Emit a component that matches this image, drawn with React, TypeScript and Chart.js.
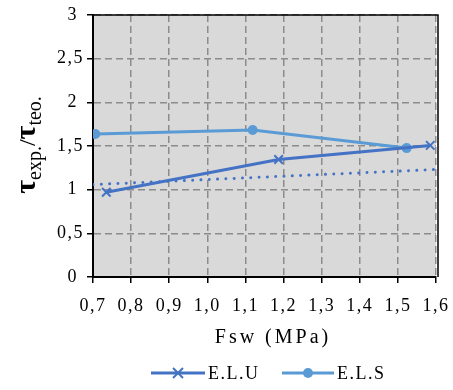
import React, { useEffect, useRef } from "react";
import { Chart, registerables } from "chart.js";

Chart.register(...registerables);

const FONT = '"Liberation Serif", "Times New Roman", serif';

const eluX = [0.735, 1.187, 1.585];
const eluY = [0.97, 1.346, 1.507];
const elsX = [0.706, 1.119, 1.523];
const elsY = [1.638, 1.684, 1.476];
const trendX = [0.7, 1.6];
const trendY = [1.058, 1.231];
const seriesNames = ["E.L.U", "E.L.S"];
const xTitle = "Fsw (MPa)";

const C_ELU = "#4472C4";
const C_ELS = "#5B9BD5";

const fmtX = (v: number) => v.toFixed(1).replace(".", ",");
const fmtY = (v: number) => {
  const r = Math.round(v * 10) / 10;
  return Number.isInteger(r) ? String(r) + " " : String(r).replace(".", ",");
};

const pts = (xs: number[], ys: number[]) => xs.map((x, i) => ({ x, y: ys[i] }));

const setSpacing = (chart: any) => {
  (chart.ctx as any).letterSpacing = "1.5px";
};

const decorPlugin = {
  id: "decor",
  beforeLayout(chart: any) {
    setSpacing(chart);
  },
  beforeDraw(chart: any) {
    setSpacing(chart);
    const { ctx, chartArea: a } = chart;
    ctx.save();
    ctx.fillStyle = "#D9D9D9";
    ctx.fillRect(a.left, a.top, a.right - a.left, a.bottom - a.top);
    ctx.restore();
  },
  afterDraw(chart: any) {
    const { ctx, chartArea: a } = chart;
    ctx.save();
    ctx.strokeStyle = "#000";
    ctx.lineWidth = 1.5;
    ctx.beginPath();
    ctx.moveTo(a.left, a.top);
    ctx.lineTo(a.right + 2, a.top);
    ctx.lineTo(a.right + 2, a.bottom);
    ctx.stroke();
    ctx.restore();

    // X title
    ctx.save();
    (ctx as any).letterSpacing = "3px";
    ctx.fillStyle = "#000";
    ctx.font = `20px ${FONT}`;
    ctx.textAlign = "center";
    ctx.textBaseline = "middle";
    ctx.fillText(xTitle, 273, 338);
    ctx.restore();

    // Y title with subscripts
    ctx.save();
    (ctx as any).letterSpacing = "0px";
    ctx.translate(35, 145);
    ctx.rotate(-Math.PI / 2);
    ctx.fillStyle = "#000";
    ctx.textBaseline = "alphabetic";
    ctx.textAlign = "left";
    const parts: [string, string, number][] = [
      ["τ", `bold 30px ${FONT}`, 0],
      ["exp.", `20px ${FONT}`, 6],
      ["/", `24px ${FONT}`, 0],
      ["τ", `bold 30px ${FONT}`, 0],
      ["teo.", `20px ${FONT}`, 6],
    ];
    let total = 0;
    const widths = parts.map(([t, f]) => {
      ctx.font = f;
      const w = ctx.measureText(t).width;
      total += w;
      return w;
    });
    let x = -total / 2;
    parts.forEach(([t, f, dy], i) => {
      ctx.font = f;
      ctx.fillText(t, x, dy);
      x += widths[i];
    });
    ctx.restore();

    // Legend
    ctx.save();
    (ctx as any).letterSpacing = "1.5px";
    const ly = 373;
    const drawItem = (x0: number, x1: number, color: string, marker: string, label: string) => {
      ctx.strokeStyle = color;
      ctx.lineWidth = 3;
      ctx.beginPath();
      ctx.moveTo(x0, ly);
      ctx.lineTo(x1, ly);
      ctx.stroke();
      const cx = (x0 + x1) / 2;
      if (marker === "x") {
        ctx.lineWidth = 2;
        ctx.beginPath();
        ctx.moveTo(cx - 5, ly - 5);
        ctx.lineTo(cx + 5, ly + 5);
        ctx.moveTo(cx - 5, ly + 5);
        ctx.lineTo(cx + 5, ly - 5);
        ctx.stroke();
      } else {
        ctx.fillStyle = color;
        ctx.beginPath();
        ctx.arc(cx, ly, 5, 0, Math.PI * 2);
        ctx.fill();
      }
      ctx.fillStyle = "#000";
      ctx.font = `18px ${FONT}`;
      ctx.textBaseline = "middle";
      ctx.textAlign = "left";
      ctx.fillText(label, x1 + 3, ly + 1);
    };
    drawItem(151, 205, C_ELU, "x", seriesNames[0]);
    drawItem(282, 334, C_ELS, "o", seriesNames[1]);
    ctx.restore();
  },
};

const gridOpts = {
  color: "#8C8C8C",
  lineWidth: 1.5,
  tickColor: "#000",
  tickLength: 6,
  tickWidth: 1.5,
  tickBorderDash: [],
};

export default function App() {
  const ref = useRef<HTMLCanvasElement>(null);
  useEffect(() => {
    document.body.style.margin = "0";
    const chart = new Chart(ref.current as HTMLCanvasElement, {
      type: "line",
      data: {
        datasets: [
          {
            label: "trend",
            data: pts(trendX, trendY),
            borderColor: C_ELU,
            borderWidth: 3,
            borderDash: [0.01, 8.3],
            borderCapStyle: "round",
            pointRadius: 0,
            fill: false,
          },
          {
            label: seriesNames[0],
            data: pts(eluX, eluY),
            borderColor: C_ELU,
            backgroundColor: C_ELU,
            borderWidth: 3,
            pointStyle: "crossRot",
            pointRadius: 6,
            pointBorderWidth: 2,
            fill: false,
          },
          {
            label: seriesNames[1],
            data: pts(elsX, elsY),
            borderColor: C_ELS,
            backgroundColor: C_ELS,
            borderWidth: 3,
            pointStyle: "circle",
            pointRadius: 5,
            pointBorderWidth: 0,
            fill: false,
          },
        ],
      },
      options: {
        animation: false,
        responsive: false,
        maintainAspectRatio: false,
        layout: { padding: { top: 15, right: 17, left: 0, bottom: 0 } },
        plugins: { legend: { display: false }, tooltip: { enabled: false } },
        scales: {
          x: {
            type: "linear",
            min: 0.7,
            max: 1.6,
            ticks: {
              stepSize: 0.1,
              color: "#000",
              font: { family: FONT, size: 18 },
              padding: 12,
              maxRotation: 0,
              callback: (v: any) => fmtX(Number(v)),
            },
            grid: gridOpts,
            border: { display: true, color: "#000", width: 2, dash: [7, 4] },
            afterFit: (s: any) => {
              s.height = 113;
              s.paddingLeft = 0;
              s.paddingRight = 0;
            },
          },
          y: {
            type: "linear",
            min: 0,
            max: 3,
            ticks: {
              stepSize: 0.5,
              color: "#000",
              font: { family: FONT, size: 18 },
              padding: 3,
              callback: (v: any) => fmtY(Number(v)),
            },
            grid: gridOpts,
            border: { display: true, color: "#000", width: 2, dash: [7, 4] },
            afterFit: (s: any) => {
              s.width = 93;
              s.paddingTop = 0;
              s.paddingBottom = 0;
            },
          },
        },
      },
      plugins: [decorPlugin],
    } as any);
    return () => chart.destroy();
  }, []);
  return (
    <div style={{ width: 453, height: 390 }}>
      <canvas ref={ref} width={453} height={390} style={{ width: 453, height: 390, display: "block" }} />
    </div>
  );
}
